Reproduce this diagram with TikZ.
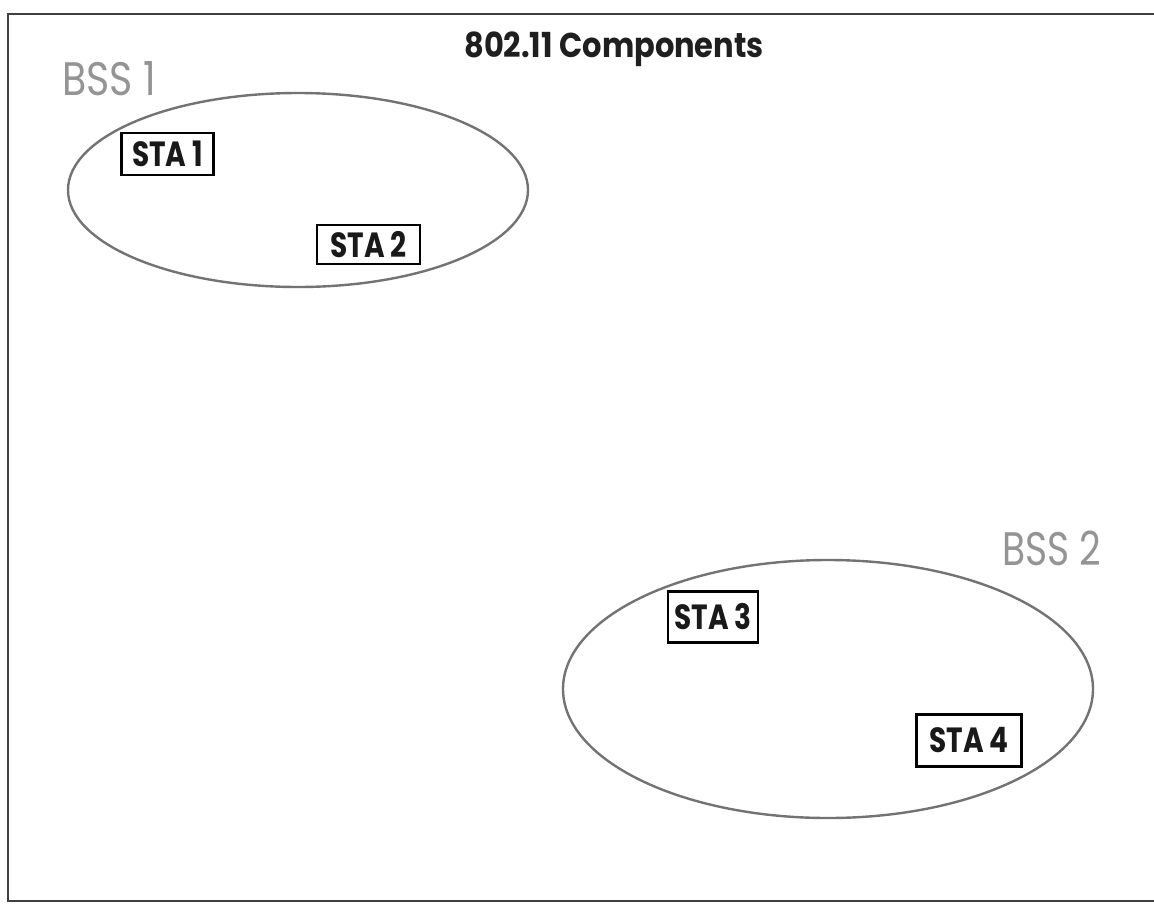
\documentclass[tikz,border=0pt]{standalone}
\usepackage{fontspec}
\setmainfont{Poppins}
\newfontfamily\geo{Poppins}
\newcommand{\stalabel}[1]{\scalebox{1}[1.25]{#1}}
\begin{document}
\begin{tikzpicture}[x=1pt,y=-1pt,
  frameline/.style={draw=black!75,line width=1.8pt},
  bssring/.style={draw=black!55,line width=2.4pt},
  stabox/.style={draw=black,line width=2.6pt,rectangle,inner sep=0pt,
    font=\geo\bfseries\fontsize{28}{30}\selectfont,text=black!90},
  bsslabel/.style={anchor=base west,inner sep=0pt,text=black!42,
    font=\geo\fontsize{47}{48}\selectfont},
  titlelabel/.style={anchor=base,inner sep=0pt,text=black!88,
    font=\geo\bfseries\fontsize{30.5}{32}\selectfont}]
\useasboundingbox (0,0) rectangle (1154,903);
\fill[white] (0,0) rectangle (1154,903);
% frame
\coordinate (ftr) at (1154,14);
\coordinate (ftl) at (8,14);
\coordinate (fbl) at (8,901);
\coordinate (fbr) at (1154,901);
\draw[frameline] (ftr) -- (ftl) -- (fbl) -- (fbr);
% title
\node[titlelabel] (title) at (614,57) {\scalebox{1}[1.13]{802.11 Components}};
% BSS 1
\node[bsslabel] (bss1) at (62,95) {\scalebox{0.84}[1]{BSS 1}};
\draw[bssring] (298,190) ellipse [x radius=230, y radius=97];
\node[stabox,minimum width=92,minimum height=42] (sta1) at (167.5,154) {\stalabel{STA 1}};
\node[stabox,minimum width=103,minimum height=39] (sta2) at (368.5,244.5) {\stalabel{STA 2}};
% BSS 2
\node[bsslabel] (bss2) at (1002,565) {\scalebox{0.8}[1]{BSS 2}};
\draw[bssring] (828,689) ellipse [x radius=265, y radius=129];
\node[stabox,minimum width=90,minimum height=51] (sta3) at (713,617) {\stalabel{STA 3}};
\node[stabox,minimum width=105,minimum height=52] (sta4) at (969,740.5) {\stalabel{STA 4}};
\end{tikzpicture}
\end{document}
